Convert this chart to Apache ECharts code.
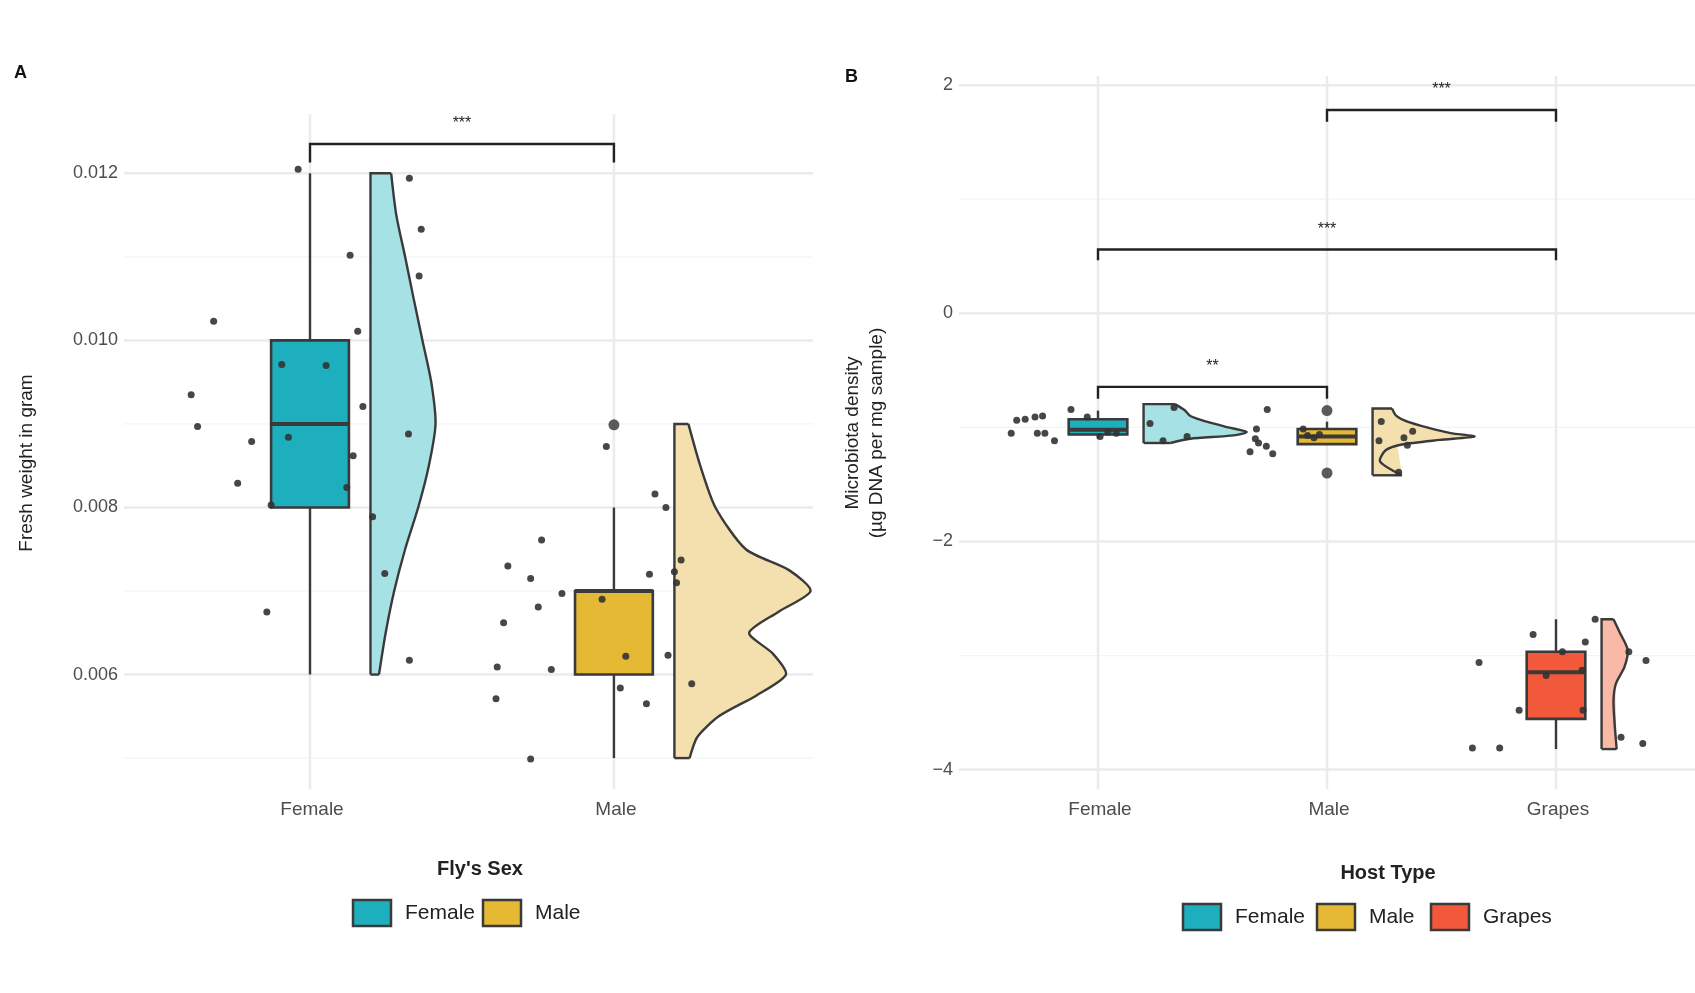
<!DOCTYPE html>
<html><head><meta charset="utf-8">
<script src="https://cdn.jsdelivr.net/npm/echarts@6/dist/echarts.min.js"></script>
<style>html,body{margin:0;padding:0;background:#fff}#c{width:1695px;height:993px}</style>
</head><body><div id="c"></div>
<script>
// ---- data, panel A (Fresh weight) ----
var aCats = ['Female','Male'];
var aYTicks = [0.006,0.008,0.010,0.012];
var aYMinor = [0.005,0.007,0.009,0.011];
// box: [cat, lower, q1, median, q3, upper]
var aBoxes = [[0,0.006,0.008,0.009,0.010,0.012],[1,0.005,0.006,0.007,0.007,0.008]];
var aOutliers = [[1,0.00899]];
var aViolinY = [
  [0.006,0.0065,0.007,0.0075,0.008,0.0085,0.009,0.0095,0.010,0.0105,0.011,0.0115,0.012],
  [0.005,0.00525,0.0055,0.00575,0.006,0.00625,0.0065,0.00675,0.007,0.00725,0.0075,0.008,0.0085,0.009]
];
var aViolinW = [
  [0.028,0.05,0.078,0.114,0.157,0.192,0.214,0.2,0.171,0.142,0.114,0.085,0.068],
  [0.05,0.075,0.146,0.27,0.367,0.324,0.246,0.342,0.448,0.377,0.235,0.135,0.085,0.046]
];
var aPtsFemale = [[-0.317,0.01023],[-0.391,0.00935],[-0.370,0.00897],[-0.192,0.00879],[-0.238,0.00829],[-0.128,0.00803],[-0.142,0.00675],[-0.093,0.00971],[-0.071,0.00884],[0.053,0.00970],[0.132,0.01102],[-0.039,0.01205],[0.121,0.00824],[0.142,0.00862],[0.174,0.00921],[0.157,0.01011],[0.206,0.00789],[0.246,0.00721],[0.327,0.00617],[0.324,0.00888],[0.359,0.01077],[0.366,0.01133],[0.327,0.01194]];
var aPtsMale = [[-0.349,0.00730],[-0.238,0.00761],[-0.274,0.00715],[-0.171,0.00697],[-0.249,0.00681],[-0.363,0.00662],[-0.384,0.00609],[-0.206,0.00606],[-0.388,0.00571],[-0.274,0.00499],[-0.025,0.00873],[-0.039,0.00690],[0.039,0.00622],[0.021,0.00584],[0.107,0.00565],[0.135,0.00816],[0.171,0.00800],[0.117,0.00720],[0.199,0.00723],[0.221,0.00737],[0.206,0.00710],[0.178,0.00623],[0.256,0.00589]];
// brackets: [from, to, y, tickBottom, label]
var aBrackets = [[0,1,0.01235,0.01213,'***']];

// ---- data, panel B (Microbiota density) ----
var bCats = ['Female','Male','Grapes'];
var bYTicks = [-4,-2,0,2];
var bYMinor = [-3,-1,1];
var bBoxes = [[0,-1.1,-1.062,-1.02,-0.929,-0.853],[1,-1.15,-1.147,-1.08,-1.014,-0.95],[2,-3.82,-3.555,-3.147,-2.967,-2.682]];
var bOutliers = [[1,-0.853],[1,-1.40]];
var bViolinY = [
  [-1.137,-1.1,-1.07,-1.04,-1.0,-0.95,-0.9,-0.85,-0.796],
  [-1.42,-1.3,-1.2,-1.15,-1.11,-1.08,-1.05,-1.0,-0.95,-0.9,-0.834],
  [-3.82,-3.6,-3.4,-3.25,-3.1,-2.95,-2.8,-2.682]
];
var bViolinW = [
  [0.118,0.204,0.393,0.45,0.37,0.275,0.204,0.18,0.137],
  [0.128,0.033,0.057,0.128,0.294,0.445,0.341,0.237,0.152,0.104,0.085],
  [0.066,0.057,0.052,0.062,0.1,0.114,0.08,0.052]
];
var bPtsFemale = [[-0.379,-1.052],[-0.355,-0.938],[-0.318,-0.929],[-0.275,-0.910],[-0.242,-0.900],[-0.265,-1.052],[-0.232,-1.052],[-0.190,-1.118],[-0.118,-0.844],[-0.047,-0.910],[0.009,-1.081],[0.043,-1.043],[0.080,-1.052],[0.227,-0.967],[0.284,-1.118],[0.332,-0.825],[0.389,-1.081]];
var bPtsMale = [[-0.261,-0.844],[-0.308,-1.014],[-0.313,-1.100],[-0.299,-1.137],[-0.336,-1.213],[-0.237,-1.232],[-0.265,-1.166],[-0.104,-1.014],[-0.085,-1.071],[-0.057,-1.090],[-0.033,-1.062],[0.237,-0.948],[0.227,-1.118],[0.336,-1.090],[0.374,-1.033],[0.313,-1.393],[0.351,-1.156]];
var bPtsGrapes = [[-0.336,-3.062],[-0.365,-3.810],[-0.246,-3.810],[-0.161,-3.479],[-0.100,-2.815],[-0.043,-3.175],[0.028,-2.967],[0.114,-3.128],[0.118,-3.479],[0.128,-2.882],[0.171,-2.682],[0.284,-3.716],[0.318,-2.967],[0.393,-3.043],[0.379,-3.772]];
var bBrackets = [[1,2,1.782,1.678,'***'],[0,2,0.559,0.464,'***'],[0,1,-0.645,-0.749,'**']];

var boxCol = ['#1DAFBD','#E6B934','#F2593A'];
var vioCol = ['#A6E1E5','#F3E0AE','#F8BAA6'];
var edge = '#3a3a3a';
var FONT = 'Liberation Sans';
var VOFF = 0.199, BHALF = 0.128;

var chart = echarts.init(document.getElementById('c'));

function gridSeries(gi, vals, horizontal, major){
  return {type:'custom', xAxisIndex:gi, yAxisIndex:gi, silent:true, z:0,
    data: vals.map(function(v){return horizontal?[0,v]:[v,0];}),
    renderItem:function(p,api){
      var cs=p.coordSys, st={stroke: major?'#ebebeb':'#f4f4f4', lineWidth: major?2.5:1.2};
      if(horizontal){var y=api.coord([0,api.value(1)])[1];
        return {type:'line',shape:{x1:cs.x,y1:y,x2:cs.x+cs.width,y2:y},style:st};}
      var x=api.coord([api.value(0),0])[0];
      return {type:'line',shape:{x1:x,y1:cs.y,x2:x,y2:cs.y+cs.height},style:st};
    }};
}
function yLabelSeries(gi, vals){
  return {type:'custom', xAxisIndex:gi, yAxisIndex:gi, silent:true, data: vals.map(function(v){return [0,v];}),
    renderItem:function(p,api){
      var v=api.value(1), y=api.coord([0,v])[1];
      return {type:'text',x:p.coordSys.x-6,y:y,style:{text: gi==0? v.toFixed(3): String(v).replace('-','\u2212'),
        font:'18px '+FONT,fill:'#4d4d4d',align:'right',verticalAlign:'middle'}};
    }};
}
function xLabelSeries(gi, cats){
  return {type:'custom', xAxisIndex:gi, yAxisIndex:gi, silent:true, data: cats.map(function(c,i){return [i,0];}),
    renderItem:function(p,api){
      var i=api.value(0), x=api.coord([i,0])[0], cs=p.coordSys;
      return {type:'text',x:x+2,y:cs.y+cs.height+21,style:{text:cats[i],font:'19px '+FONT,fill:'#4d4d4d',align:'center',verticalAlign:'middle'}};
    }};
}
function violinSeries(gi, ys, ws){
  return {type:'custom', xAxisIndex:gi, yAxisIndex:gi, silent:true, z:2, data: ys.map(function(y,i){return [i,y[0]];}),
    renderItem:function(p,api){
      var i=p.dataIndex, Y=ys[i], W=ws[i], pts=[], k;
      var left=[api.coord([i+VOFF,Y[0]]),api.coord([i+VOFF,Y[Y.length-1]])];
      for(k=Y.length-1;k>=0;k--) pts.push(api.coord([i+VOFF+W[k],Y[k]]));
      return {type:'group',children:[
        {type:'polygon',shape:{points:[left[1]].concat(pts).concat([left[0]])},style:{fill:vioCol[i],stroke:null},z2:0},
        {type:'polyline',shape:{points:pts,smooth:0.25},style:{fill:vioCol[i],stroke:null},z2:1},
        {type:'polyline',shape:{points:[left[0],left[1]].concat([pts[0]])},style:{fill:'none',stroke:edge,lineWidth:2.4},z2:2},
        {type:'polyline',shape:{points:pts,smooth:0.25},style:{fill:'none',stroke:edge,lineWidth:2.4},z2:2},
        {type:'line',shape:{x1:left[0][0],y1:left[0][1],x2:pts[pts.length-1][0],y2:pts[pts.length-1][1]},style:{stroke:edge,lineWidth:2.4},z2:2}
      ]};
    }};
}
function boxSeries(gi, boxes){
  return {type:'custom', xAxisIndex:gi, yAxisIndex:gi, silent:true, z:3, data: boxes,
    renderItem:function(p,api){
      var c=api.value(0), lo=api.coord([c,api.value(1)]), q1=api.coord([c,api.value(2)]),
          md=api.coord([c,api.value(3)]), q3=api.coord([c,api.value(4)]), hi=api.coord([c,api.value(5)]);
      var xl=api.coord([c-BHALF,0])[0], xr=api.coord([c+BHALF,0])[0];
      return {type:'group',children:[
        {type:'line',shape:{x1:lo[0],y1:lo[1],x2:q1[0],y2:q1[1]},style:{stroke:edge,lineWidth:2.4}},
        {type:'line',shape:{x1:q3[0],y1:q3[1],x2:hi[0],y2:hi[1]},style:{stroke:edge,lineWidth:2.4}},
        {type:'rect',shape:{x:xl,y:q3[1],width:xr-xl,height:q1[1]-q3[1]},style:{fill:boxCol[c],stroke:edge,lineWidth:2.6}},
        {type:'line',shape:{x1:xl,y1:md[1],x2:xr,y2:md[1]},style:{stroke:edge,lineWidth:4}}
      ]};
    }};
}
function pointSeries(gi, cat, pts, size){
  return {type:'scatter', xAxisIndex:gi, yAxisIndex:gi, silent:true, z:4, symbolSize:size||7,
    itemStyle:{color:'#333',opacity:0.9},
    data: pts.map(function(p){return [cat+p[0],p[1]];})};
}
function bracketSeries(gi, br){
  return {type:'custom', xAxisIndex:gi, yAxisIndex:gi, silent:true, z:5, data: br.map(function(b){return [b[0],b[2]];}),
    renderItem:function(p,api){
      var b=br[p.dataIndex], a=api.coord([b[0],b[2]]), e=api.coord([b[1],b[2]]), t=api.coord([b[0],b[3]])[1];
      var st={stroke:'#222',lineWidth:2.4,fill:'none'};
      return {type:'group',children:[
        {type:'polyline',shape:{points:[[a[0],t],a,e,[e[0],t]]},style:st},
        {type:'text',x:(a[0]+e[0])/2,y:a[1]-20,style:{text:b[4],font:'16px '+FONT,fill:'#222',align:'center',verticalAlign:'middle'}}
      ]};
    }};
}
function legend(x0, y0, title, tx, items){
  var els=[{type:'text',x:tx,y:y0-44,style:{text:title,font:'bold 20px '+FONT,fill:'#222',align:'center',verticalAlign:'middle'}}];
  items.forEach(function(it){
    els.push({type:'rect',shape:{x:it[0],y:y0-13,width:38,height:26},style:{fill:boxCol[it[2]],stroke:edge,lineWidth:2.5}});
    els.push({type:'text',x:it[0]+52,y:y0,style:{text:it[1],font:'21px '+FONT,fill:'#222',verticalAlign:'middle'}});
  });
  return els;
}

var graphics = [
  {type:'text',left:14,top:64,style:{text:'A',font:'bold 18px '+FONT,fill:'#111'}},
  {type:'text',left:845,top:68,style:{text:'B',font:'bold 18px '+FONT,fill:'#111'}},
  {type:'text',x:27,y:463,rotation:Math.PI/2,style:{text:'Fresh weight in gram',font:'19px '+FONT,fill:'#222',align:'center',verticalAlign:'middle'}},
  {type:'text',x:865,y:433,rotation:Math.PI/2,style:{text:'Microbiota density\n(\u00b5g DNA per mg sample)',font:'19px '+FONT,fill:'#222',align:'center',verticalAlign:'middle',lineHeight:24}}
].concat(legend(0,913,"Fly's Sex",480,[[353,'Female',0],[483,'Male',1]]))
 .concat(legend(0,917,'Host Type',1388,[[1183,'Female',0],[1317,'Male',1],[1431,'Grapes',2]]));

var option = {
  animation:false,
  backgroundColor:'#fff',
  graphic: graphics,
  grid:[{left:124,width:689,top:114,bottom:204},{left:959,right:0,top:76,bottom:204}],
  xAxis:[{type:'value',gridIndex:0,min:-0.612,max:1.655,show:false},
         {type:'value',gridIndex:1,min:-0.607,max:2.607,show:false}],
  yAxis:[{type:'value',gridIndex:0,min:0.00463,max:0.01271,show:false},
         {type:'value',gridIndex:1,min:-4.17,max:2.08,show:false}],
  series:[
    gridSeries(0,aYMinor,true,false), gridSeries(0,aYTicks,true,true), gridSeries(0,[0,1],false,true),
    gridSeries(1,bYMinor,true,false), gridSeries(1,bYTicks,true,true), gridSeries(1,[0,1,2],false,true),
    yLabelSeries(0,aYTicks), yLabelSeries(1,bYTicks), xLabelSeries(0,aCats), xLabelSeries(1,bCats),
    violinSeries(0,aViolinY,aViolinW), violinSeries(1,bViolinY,bViolinW),
    boxSeries(0,aBoxes), boxSeries(1,bBoxes),
    pointSeries(0,0,aPtsFemale), pointSeries(0,1,aPtsMale),
    pointSeries(1,0,bPtsFemale), pointSeries(1,1,bPtsMale), pointSeries(1,2,bPtsGrapes),
    {type:'scatter',xAxisIndex:0,yAxisIndex:0,silent:true,z:4,symbolSize:11,itemStyle:{color:'#333'},data:aOutliers},
    {type:'scatter',xAxisIndex:1,yAxisIndex:1,silent:true,z:4,symbolSize:11,itemStyle:{color:'#333'},data:bOutliers},
    bracketSeries(0,aBrackets), bracketSeries(1,bBrackets)
  ]
};
chart.setOption(option);
</script></body></html>
